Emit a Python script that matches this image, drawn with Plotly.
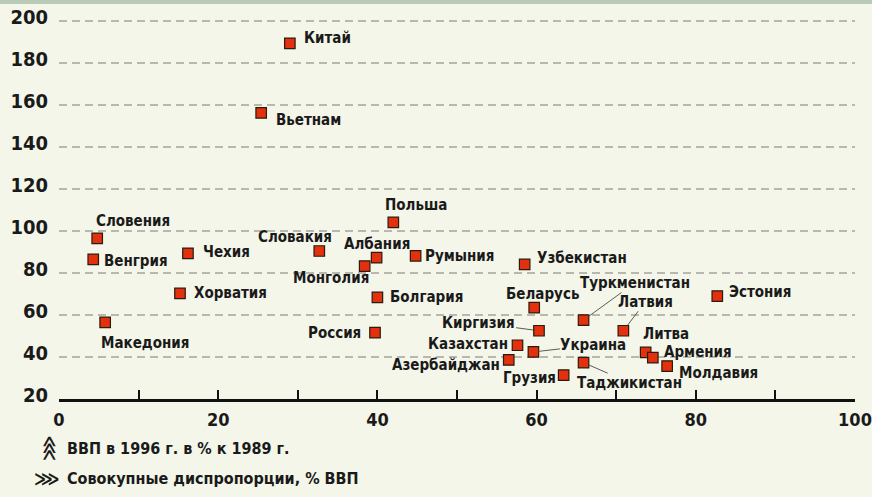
import plotly.graph_objects as go

# ---- data ----
countries = ["Китай", "Вьетнам", "Словения", "Венгрия", "Чехия", "Хорватия", "Македония",
             "Польша", "Словакия", "Албания", "Монголия", "Румыния", "Узбекистан", "Болгария",
             "Беларусь", "Россия", "Киргизия", "Казахстан", "Украина", "Азербайджан", "Грузия",
             "Туркменистан", "Латвия", "Литва", "Армения", "Молдавия", "Таджикистан", "Эстония"]
imbalance = [29.0, 25.4, 4.8, 4.3, 16.2, 15.2, 5.8,
             42.0, 32.7, 39.9, 38.4, 44.8, 58.5, 40.0,
             59.7, 39.7, 60.3, 57.6, 59.6, 56.5, 63.4,
             65.9, 70.9, 73.7, 74.6, 76.4, 65.9, 82.7]
gdp_1996 = [189.4, 156.3, 96.5, 86.5, 89.4, 70.3, 56.5,
            104.1, 90.5, 87.3, 83.3, 88.2, 84.1, 68.4,
            63.5, 51.6, 52.5, 45.6, 42.4, 38.6, 31.4,
            57.6, 52.5, 42.2, 39.7, 35.7, 37.3, 69.0]
x_tick_vals = [0, 10, 20, 30, 40, 50, 60, 70, 80, 90, 100]
x_tick_text = ["0", "", "20", "", "40", "", "60", "", "80", "", "100"]
y_tick_vals = [20, 40, 60, 80, 100, 120, 140, 160, 180, 200]
y_title = "ВВП в 1996 г. в % к 1989 г."
x_title = "Совокупные диспропорции, % ВВП"

# ---- label placement (pixel offsets from marker) ----
plain = {
    "Китай": ("left", 12, 5), "Вьетнам": ("left", 13, -7), "Словения": ("left", -3, 17),
    "Венгрия": ("left", 9, -2), "Чехия": ("left", 13, 1), "Хорватия": ("left", 12, 0),
    "Македония": ("left", -6, -21), "Польша": ("left", -10, 17), "Словакия": ("right", 15, 14),
    "Албания": ("left", -35, 14), "Монголия": ("right", 6, -12), "Румыния": ("left", 7, 0),
    "Узбекистан": ("left", 10, 6), "Болгария": ("left", 11, 0), "Беларусь": ("left", -30, 14),
    "Россия": ("right", -12, 0), "Казахстан": ("right", -8, 1), "Азербайджан": ("right", -7, -5),
    "Грузия": ("right", -6, -3), "Литва": ("left", -5, 18), "Армения": ("left", 9, 6),
    "Молдавия": ("left", 10, -7), "Эстония": ("left", 10, 4),
}
leader = {
    "Киргизия": (-60, -8), "Украина": (60, -7), "Туркменистан": (51, -37),
    "Латвия": (22, -29), "Таджикистан": (46, 20),
}

FONT = "DejaVu Sans Condensed, DejaVu Sans, sans-serif"
BG = "#F4F6E9"
TXT = "#1a1a1a"

fig = go.Figure()
fig.add_trace(go.Scatter(
    x=imbalance, y=gdp_1996, mode="markers", text=countries, hoverinfo="text",
    marker=dict(symbol="square", size=10.5, color="#E2310C",
                line=dict(color="#2A1A10", width=1.2)),
    showlegend=False,
))

annotations = []
for name, xv, yv in zip(countries, imbalance, gdp_1996):
    label = "<b>" + name + "</b>"
    if name in plain:
        anc, dx, dy = plain[name]
        annotations.append(dict(x=xv, y=yv, xref="x", yref="y", text=label, showarrow=False,
                                xanchor=anc, yanchor="middle", xshift=dx, yshift=dy,
                                font=dict(family=FONT, size=15, color=TXT)))
    else:
        ax, ay = leader[name]
        annotations.append(dict(x=xv, y=yv, xref="x", yref="y", text=label, showarrow=True,
                                ax=ax, ay=ay, arrowhead=0, arrowwidth=0.8, arrowcolor="#333",
                                standoff=6, borderpad=0,
                                font=dict(family=FONT, size=15, color=TXT)))

ICON = "<b>⋙</b>"
annotations += [
    dict(x=0, y=0, xref="paper", yref="paper", text=ICON, textangle=-90, showarrow=False,
         xanchor="center", yanchor="middle", xshift=-11, yshift=-49,
         font=dict(family="DejaVu Sans", size=18, color=TXT)),
    dict(x=0, y=0, xref="paper", yref="paper", text="<b>" + y_title + "</b>", showarrow=False,
         xanchor="left", yanchor="middle", xshift=6, yshift=-49,
         font=dict(family=FONT, size=16, color=TXT)),
    dict(x=0, y=0, xref="paper", yref="paper", text=ICON, showarrow=False,
         xanchor="center", yanchor="middle", xshift=-12, yshift=-79,
         font=dict(family="DejaVu Sans", size=18, color=TXT)),
    dict(x=0, y=0, xref="paper", yref="paper", text="<b>" + x_title + "</b>", showarrow=False,
         xanchor="left", yanchor="middle", xshift=6, yshift=-79,
         font=dict(family=FONT, size=16, color=TXT)),
]

fig.update_layout(
    width=872, height=497,
    margin=dict(l=59, r=17, t=19, b=98),
    paper_bgcolor=BG, plot_bgcolor=BG,
    annotations=annotations,
    shapes=[dict(type="rect", xref="paper", yref="paper",
                 x0=-0.1, x1=1.1, y0=1 + 15 / 380, y1=1 + 20 / 380,
                 fillcolor="#B9CBB6", line=dict(width=0), layer="above")],
    xaxis=dict(range=[0, 100], tickvals=x_tick_vals, ticktext=x_tick_text,
               showline=True, linecolor="#111", linewidth=2.5,
               ticks="inside", ticklen=9, tickwidth=2, tickcolor="#111",
               showgrid=False, zeroline=False, automargin=False,
               ticklabeloverflow="allow", ticklabelstandoff=3,
               tickfont=dict(family=FONT, size=18, color=TXT, weight="bold")),
    yaxis=dict(range=[20, 201], tickvals=y_tick_vals, showline=False, ticks="",
               showgrid=True, gridcolor="#B8B8B0", gridwidth=2, griddash="8px,5px",
               zeroline=False, automargin=False, ticklabelstandoff=10, ticklabelshift=-4,
               ticklabeloverflow="allow",
               tickfont=dict(family=FONT, size=20, color=TXT, weight="bold")),
)

fig.write_html("out.html", config={"displayModeBar": False},
               post_script="document.body.style.margin='0';")
